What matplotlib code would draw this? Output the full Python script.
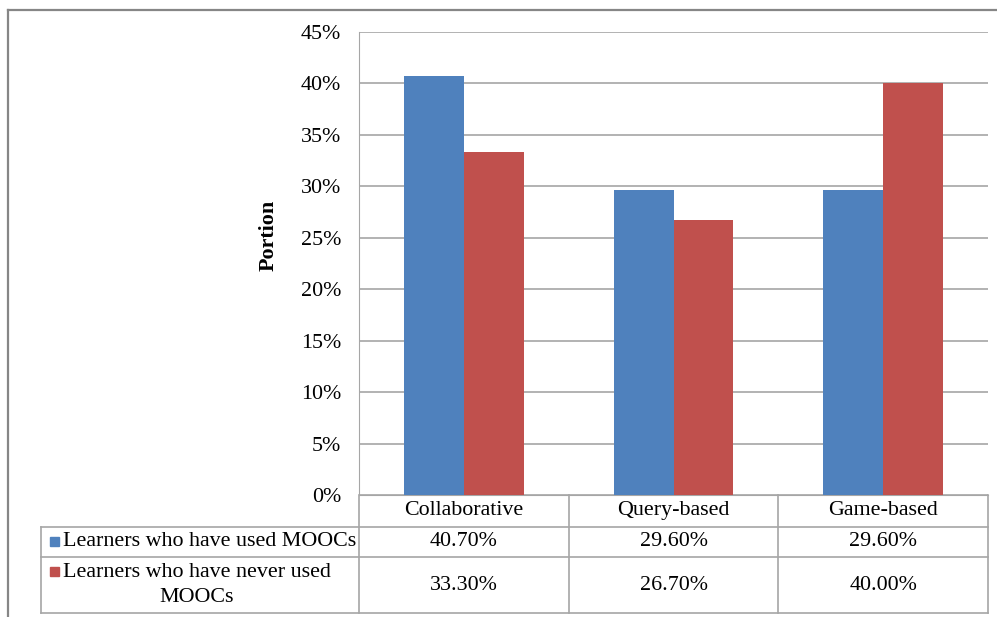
import numpy as np
import matplotlib.pyplot as plt
from matplotlib.lines import Line2D
from matplotlib.patches import Rectangle

categories = ["Collaborative", "Query-based", "Game-based"]
series_names = ["Learners who have used MOOCs", "Learners who have never used\nMOOCs"]
used = [40.70, 29.60, 29.60]
never_used = [33.30, 26.70, 40.00]
colors = ["#4F81BD", "#C0504D"]

W, H = 997, 617
plt.rcParams["font.family"] = ["Liberation Serif", "DejaVu Serif"]
FS = 15.8

fig = plt.figure(figsize=(W / 100, H / 100), dpi=100)


def fx(px):
    return px / W


def fy(py):
    return 1 - py / H


grid_col = "#A6A6A6"

# outer chart frame (cropped on the right and bottom)
fig.add_artist(Line2D([fx(8), 1], [fy(10), fy(10)], color="#868686", lw=1.6, transform=fig.transFigure))
fig.add_artist(Line2D([fx(8), fx(8)], [fy(10), 0], color="#868686", lw=1.6, transform=fig.transFigure))

# plot area
left, right, top, bottom = 359, 988, 32, 495
ax = fig.add_axes([fx(left), fy(bottom), fx(right) - fx(left), fy(top) - fy(bottom)])
x = np.arange(len(categories))
bw = 0.2857
ax.bar(x - bw / 2, used, bw, color=colors[0], zorder=3)
ax.bar(x + bw / 2, never_used, bw, color=colors[1], zorder=3)
ax.set_xlim(-0.5, len(categories) - 0.5)
ax.set_ylim(0, 45)
ax.set_yticks(np.arange(0, 46, 5))
ax.set_yticklabels([f"{v}%" for v in range(0, 46, 5)], fontsize=FS)
ax.set_xticks([])
ax.tick_params(axis="y", length=0, pad=13)
ax.grid(axis="y", color=grid_col, lw=1.2, zorder=0)
for s in ["top", "right"]:
    ax.spines[s].set_visible(False)
ax.spines["left"].set_color(grid_col)
ax.spines["bottom"].set_color(grid_col)
ax.set_ylabel("Portion", fontsize=FS, fontweight="bold")
ax.yaxis.set_label_coords(-0.128, 0.56)

# data table below the plot
tleft, tbottom = 41, 613
unit = (right - left) / len(categories)
x0 = -0.5 - (left - tleft) / unit
tab = fig.add_axes([fx(tleft), fy(tbottom), fx(right) - fx(tleft), fy(bottom) - fy(tbottom)])
tab.set_xlim(x0, len(categories) - 0.5)
tab.set_ylim(tbottom, bottom)
tab.axis("off")

row_edges = [bottom, 526.5, 557, tbottom]
for i in range(len(categories) + 1):
    tab.plot([i - 0.5, i - 0.5], [bottom, tbottom], color=grid_col, lw=1.2, clip_on=False)
tab.plot([x0, x0], [row_edges[1], tbottom], color=grid_col, lw=1.2, clip_on=False)
for yy in row_edges[1:]:
    tab.plot([x0, len(categories) - 0.5], [yy, yy], color=grid_col, lw=1.2, clip_on=False)

for i, c in enumerate(categories):
    tab.text(i, (row_edges[0] + row_edges[1]) / 2, c, ha="center", va="center", fontsize=FS)
key_y = [541.5, 571]
for r, vals in enumerate([used, never_used]):
    yc = (row_edges[r + 1] + row_edges[r + 2]) / 2
    for i, v in enumerate(vals):
        tab.text(i, yc, f"{v:.2f}%", ha="center", va="center", fontsize=FS)
    # legend key + series name
    tab.add_patch(Rectangle((x0 + 9 / unit, key_y[r] - 4.5), 9 / unit, 9,
                            color=colors[r], clip_on=False))
    tab.text(x0 + 22 / unit, yc, series_names[r], ha="left", va="center",
             multialignment="center", fontsize=FS, linespacing=1.45)

fig.savefig("out.png", dpi=100)
